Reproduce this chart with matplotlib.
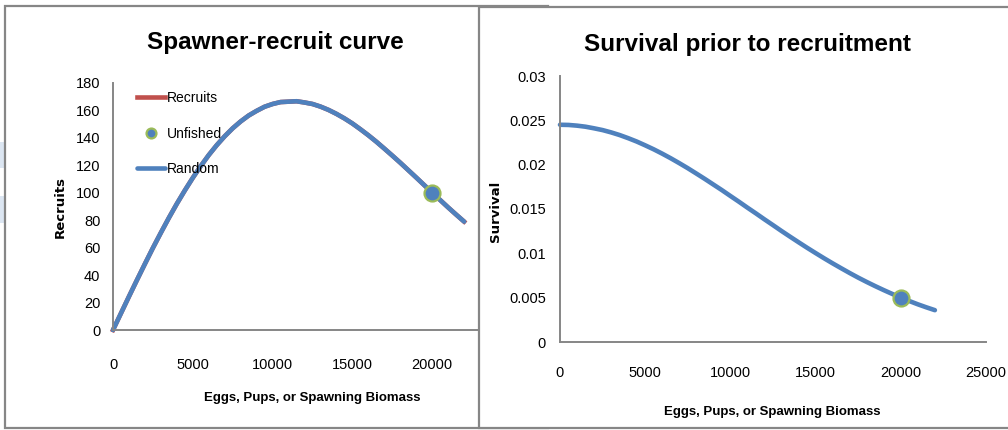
import matplotlib
matplotlib.use('Agg')
import matplotlib.pyplot as plt
from matplotlib.patches import Rectangle

# values
spawners = [0, 500, 1000, 1500, 2000, 2500, 3000, 3500, 4000, 4500, 5000,
            5500, 6000, 6500, 7000, 7500, 8000, 8500, 9000, 9500, 10000,
            10500, 11000, 11500, 12000, 12500, 13000, 13500, 14000, 14500,
            15000, 15500, 16000, 16500, 17000, 17500, 18000, 18500, 19000,
            19500, 20000, 20500, 21000, 21500, 22000]
recruits = [0, 12.2, 24.4, 36.4, 48.2, 59.8, 70.9, 81.7, 92.0, 101.7, 110.9,
            119.5, 127.5, 134.7, 141.2, 147.0, 152.0, 156.3, 159.7, 162.7,
            164.7, 166.1, 166.4, 166.7, 165.8, 164.7, 162.8, 160.4, 157.5,
            154.2, 150.5, 146.3, 141.9, 137.2, 132.2, 127.1, 121.9, 116.5,
            111.1, 105.6, 100.1, 94.7, 89.3, 84.1, 79.0]
survival = [0.0245, 0.02448, 0.0244, 0.02428, 0.0241, 0.0239, 0.02364,
            0.02334, 0.02299, 0.02261, 0.02218, 0.02173, 0.02124, 0.02072,
            0.02017, 0.0196, 0.0190, 0.01839, 0.01776, 0.01713, 0.01647,
            0.01582, 0.01515, 0.0145, 0.01383, 0.01318, 0.01252, 0.01188,
            0.01125, 0.01063, 0.01003, 0.00944, 0.00887, 0.00832, 0.00778,
            0.00726, 0.00677, 0.0063, 0.00585, 0.00542, 0.00501, 0.00462,
            0.00425, 0.00391, 0.00359]
unfished_s = [20000]
unfished_r = [100.1]
unfished_surv = [0.00501]

x_ticks = [0, 5000, 10000, 15000, 20000, 25000]
r_ticks = [0, 20, 40, 60, 80, 100, 120, 140, 160, 180]
s_ticks = [0, 0.005, 0.01, 0.015, 0.02, 0.025, 0.03]
s_tick_labels = ['0', '0.005', '0.01', '0.015', '0.02', '0.025', '0.03']

BLUE = '#4F81BD'
RED = '#C0504D'
GREEN = '#9BBB59'
GRAY = '#868686'
sans = ['Liberation Sans', 'DejaVu Sans']

W, H = 1008, 430


def fx(px):
    return px / W


def fy(py):
    return 1 - py / H


def box(x0, y0, x1, y1):
    return [fx(x0), fy(y1), fx(x1) - fx(x0), fy(y0) - fy(y1)]


def style_axes(ax):
    ax.set_facecolor('none')
    for side in ['top', 'right']:
        ax.spines[side].set_visible(False)
    for side in ['left', 'bottom']:
        ax.spines[side].set_color(GRAY)
        ax.spines[side].set_linewidth(1.4)
    ax.tick_params(length=0, labelsize=10.5)
    for lab in ax.get_xticklabels() + ax.get_yticklabels():
        lab.set_family(sans)


fig = plt.figure(figsize=(W / 100, H / 100), dpi=100)

# spreadsheet bits behind the charts
for y0, y1 in [(142, 168), (196, 223)]:
    fig.patches.append(Rectangle((fx(0), fy(y1)), fx(4), fy(y0) - fy(y1),
                                 transform=fig.transFigure, fc='#dce6f2',
                                 ec='none', zorder=-3))
# chart frames
fig.patches.append(Rectangle((fx(5), fy(428)), fx(548) - fx(5), fy(6) - fy(428),
                             transform=fig.transFigure, fc='white', ec=GRAY,
                             lw=1.6, zorder=-2))
fig.patches.append(Rectangle((fx(479), fy(428)), fx(1015) - fx(479), fy(7) - fy(428),
                             transform=fig.transFigure, fc='white', ec=GRAY,
                             lw=1.6, zorder=1))

# left: spawner-recruit curve
ax1 = fig.add_axes(box(113, 83, 512, 330))
ax1.set_zorder(0)
l_rec, = ax1.plot(spawners, recruits, color=RED, lw=3.3, label='Recruits',
                  clip_on=False)
l_unf, = ax1.plot(unfished_s, unfished_r, 'o', ms=11.5, mfc=BLUE, mec=GREEN,
                  mew=1.6, label='Unfished', zorder=4)
l_ran, = ax1.plot(spawners, recruits, color=BLUE, lw=3.3, label='Random',
                  clip_on=False, solid_capstyle='round')
ax1.set_xlim(0, 25000)
ax1.set_ylim(0, 180)
ax1.set_xticks(x_ticks)
ax1.set_yticks(r_ticks)
ax1.tick_params(axis='y', pad=9)
ax1.tick_params(axis='x', pad=20)
style_axes(ax1)
leg = ax1.legend(handles=[l_rec, l_unf, l_ran], loc='upper left',
                 bbox_to_anchor=(fx(137), fy(91)), bbox_transform=fig.transFigure,
                 frameon=False, borderpad=0, borderaxespad=0, handlelength=2.0,
                 handletextpad=0.12, labelspacing=1.55, markerscale=0.62,
                 numpoints=1, prop={'family': sans, 'size': 10})

# right: survival
ax2 = fig.add_axes(box(560, 76, 986, 342))
ax2.set_zorder(2)
ax2.plot(spawners, survival, color=BLUE, lw=3.3, solid_capstyle='round',
         clip_on=False)
ax2.plot(unfished_s, unfished_surv, 'o', ms=11.5, mfc=BLUE, mec=GREEN,
         mew=1.6, zorder=4)
ax2.set_xlim(0, 25000)
ax2.set_ylim(0, 0.03)
ax2.set_xticks(x_ticks)
ax2.set_yticks(s_ticks)
ax2.set_yticklabels(s_tick_labels)
ax2.tick_params(axis='y', pad=10)
ax2.tick_params(axis='x', pad=17)
style_axes(ax2)

# titles and axis titles
fig.text(fx(275), fy(43), 'Spawner-recruit curve', ha='center', va='center',
         fontsize=17.5, weight='bold', family=sans)
fig.text(fx(747), fy(45), 'Survival prior to recruitment', ha='center',
         va='center', fontsize=17.5, weight='bold', family=sans, zorder=5)
fig.text(fx(60), fy(207), 'Recruits', rotation=90, ha='center', va='center',
         fontsize=9.5, weight='bold', family='DejaVu Sans')
fig.text(fx(496), fy(211), 'Survival', rotation=90, ha='center', va='center',
         fontsize=9.5, weight='bold', family='DejaVu Sans', zorder=5)
fig.text(fx(312), fy(398), 'Eggs, Pups, or Spawning Biomass', ha='center',
         va='center', fontsize=9.5, weight='bold', family=sans)
fig.text(fx(772), fy(412), 'Eggs, Pups, or Spawning Biomass', ha='center',
         va='center', fontsize=9.5, weight='bold', family=sans, zorder=5)

fig.savefig('out.png', dpi=100, facecolor='white')
